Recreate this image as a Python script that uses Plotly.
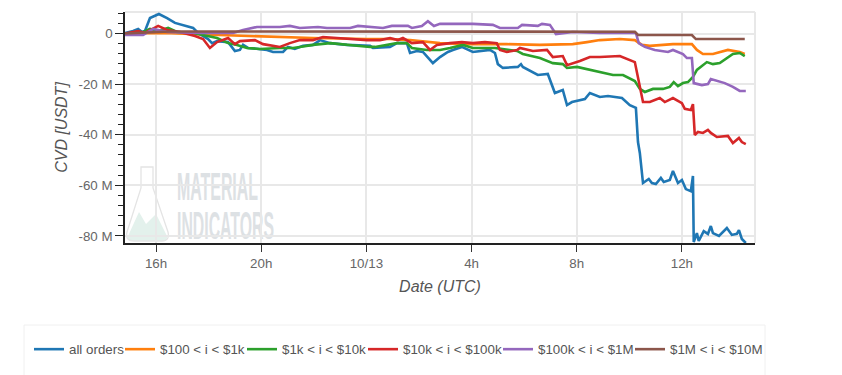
import base64
import pandas as pd
import plotly.graph_objects as go

# hours since 10/12 00:00, values in million USDT
all_h = [14.82,15.13,15.32,15.47,15.58,15.77,16.11,16.42,16.72,17.18,17.41,17.60,17.98,18.13,18.32,18.74,19.00,19.19,19.31,19.50,20.22,20.45,20.83,21.02,21.28,21.59,21.97,22.24,22.62,23.26,24.14,24.25,24.90,25.16,25.54,25.66,25.92,26.15,26.53,26.80,27.10,27.29,27.63,28.05,28.43,28.70,28.89,29.00,29.19,29.76,29.88,29.95,30.52,30.90,31.17,31.47,31.63,31.82,32.31,32.50,32.88,33.19,33.72,34.02,34.25,34.33,34.40,34.52,34.74,34.86,35.01,35.20,35.31,35.54,35.66,35.85,36.00,36.15,36.34,36.42,36.45,36.57,36.64,36.83,36.99,37.10,37.18,37.41,37.71,37.90,38.09,38.17,38.28,38.43]
all_v = [0.2,1.0,1.8,0.6,1.0,6.1,7.7,6.1,4.2,3.0,2.2,0.2,-2.2,-3.8,-3.0,-3.4,-6.9,-6.5,-4.5,-5.7,-6.5,-7.3,-7.3,-5.3,-6.1,-4.9,-4.5,-2.6,-3.8,-4.5,-4.9,-5.7,-5.3,-3.8,-3.8,-7.7,-6.9,-7.3,-11.7,-9.3,-7.3,-6.5,-5.3,-7.3,-6.9,-6.5,-7.7,-12.1,-13.6,-13.2,-12.1,-13.2,-16.4,-16.0,-23.5,-22.3,-28.3,-27.1,-25.9,-23.5,-25.1,-24.7,-25.5,-28.3,-29.4,-42.9,-47.2,-59.1,-57.5,-59.1,-59.5,-57.1,-58.7,-57.9,-54.3,-59.1,-57.9,-61.5,-62.3,-56.3,-82.4,-78.9,-82.0,-78.1,-79.2,-76.1,-78.9,-80.0,-76.9,-79.6,-79.2,-77.7,-81.2,-82.8]

o_h = [14.82,16.34,17.29,18.43,19.95,21.97,24.02,24.9,25.66,26.8,28.05,29.34,30.6,31.36,31.85,32.39,32.88,33.64,34.21,34.48,34.78,35.66,36.38,36.57,36.8,37.18,37.75,38.2,38.39]
o_v = [0,0.2,-0.2,-0.6,-1,-1.8,-2.2,-2.2,-2.6,-3.8,-4.2,-4.2,-4.5,-4.2,-4.2,-3.4,-2.6,-2.2,-2.6,-4.5,-4.9,-4.2,-4.2,-6.5,-8.1,-8.1,-6.5,-7.3,-8.1]

g_h = [14.82,15.51,15.77,16.08,16.46,16.8,17.41,18.05,18.32,18.74,19.08,19.46,19.95,20.71,21.21,21.47,21.97,22.62,23.26,24.14,24.33,25.16,25.54,25.73,26.3,26.8,27.18,27.67,28.05,28.89,29.73,29.95,30.6,31.09,31.47,31.63,32.01,32.5,32.88,33.38,33.76,34.21,34.4,34.59,34.9,35.28,35.54,35.69,35.85,36.04,36.23,36.42,36.57,36.95,37.18,37.44,37.94,38.2,38.39]
g_v = [0,0.6,1.8,1.0,2.2,0.6,0.2,-1.4,-1.8,-3.8,-4.5,-5.7,-6.1,-5.7,-5.7,-5.3,-4.5,-3.8,-4.5,-5.3,-5.3,-3.8,-3.8,-5.7,-6.5,-6.5,-5.7,-4.5,-5.7,-5.7,-6.9,-8.1,-9.7,-11.7,-12.1,-13.6,-13.2,-14.4,-15.2,-16.4,-16.4,-18.8,-21.9,-23.1,-21.9,-21.9,-21.1,-19.2,-20.8,-19.6,-19.2,-17.2,-14.4,-11.3,-12.1,-11.7,-8.1,-7.7,-8.9]

r_h = [14.82,15.13,15.32,15.58,16.08,16.42,16.91,17.48,17.79,18.05,18.32,18.74,19.0,19.19,19.76,20.07,20.71,21.09,21.47,21.97,22.35,22.88,24.02,24.52,24.9,25.2,25.39,25.73,26.15,26.42,26.68,27.18,27.63,28.05,28.51,28.96,29.08,29.34,29.73,29.84,30.33,30.87,31.09,31.47,31.63,32.12,32.5,32.88,33.64,34.21,34.33,34.52,34.78,35.16,35.35,35.66,36.0,36.11,36.34,36.42,36.49,36.61,36.8,36.99,37.1,37.33,37.75,37.94,38.17,38.28,38.43]
r_v = [0,0.6,1.0,0.2,3.0,1.4,0.6,-1,-2.2,-5.7,-3.4,-1.8,-4.2,-3.0,-2.6,-4.2,-5.3,-3.8,-2.6,-2.6,-1.4,-1.8,-2.6,-2.6,-1.8,-2.6,-1.8,-3.8,-3.4,-6.5,-4.5,-3.8,-3.4,-3.8,-3.4,-3.8,-6.5,-7.3,-6.5,-5.7,-6.9,-6.5,-9.3,-8.9,-12.5,-10.9,-9.3,-9.3,-8.9,-11.3,-17.6,-27.1,-27.1,-25.5,-27.1,-25.5,-27.5,-29.8,-30.2,-27.9,-40.1,-38.9,-39.3,-38.1,-39.3,-40.9,-40.5,-43.3,-41.3,-42.9,-43.7]

p_h = [14.82,15.51,15.89,16.42,17.67,18.93,19.31,19.84,20.71,21.09,21.47,22.16,22.5,23.38,23.68,24.63,24.97,25.58,25.73,26.11,26.34,26.57,26.8,28.05,28.81,29.08,29.76,29.92,30.52,30.68,30.98,31.21,31.85,32.88,34.25,34.36,34.59,34.97,35.47,35.66,36.04,36.19,36.38,36.45,36.76,36.99,37.1,37.63,37.94,38.2,38.43]
p_v = [-0.6,-0.6,1.8,0.6,0.2,0.2,1.4,2.6,2.6,3,2.2,2.6,2.2,2.2,3,2.2,3,3,2.2,3,4.9,3,3.8,3.8,3.4,2.2,2.2,3.4,3,3.8,3.4,-0.2,0.6,0.2,0.2,-3.8,-5.3,-6.5,-7.3,-6.5,-8.1,-9.7,-9.7,-19.6,-20.4,-20,-18,-19.6,-21.1,-22.7,-22.7]

b_h = [14.82,16.08,16.5,34.21,34.33,36.38,36.53,38.39]
b_v = [0,0.4,0.8,0.7,-0.6,-0.6,-2.2,-2.2]

names = ["all orders", "$100 < i < $1k", "$1k < i < $10k", "$10k < i < $100k", "$100k < i < $1M", "$1M < i < $10M"]
colors = ["#1f77b4", "#ff7f0e", "#2ca02c", "#d62728", "#9467bd", "#8c564b"]
hours = [all_h, o_h, g_h, r_h, p_h, b_h]
values = [all_v, o_v, g_v, r_v, p_v, b_v]

x_tick_hours = [16, 20, 24, 28, 32, 36]
x_tick_labels = ["16h", "20h", "10/13", "4h", "8h", "12h"]
y_ticks = [0, -20, -40, -60, -80]
y_labels = ["0", "-20 M", "-40 M", "-60 M", "-80 M"]
y_minor = [8, 4, -4, -8, -12, -16, -24, -28, -32, -36, -44, -48, -52, -56, -64, -68, -72, -76]
x_range_hours = [14.82, 38.78]
y_range = [-82.8, 8.5]
legend_left_px = [29, 120, 242, 363, 498, 630]

day0 = pd.Timestamp("2022-10-12")
def to_dt(h):
    return [day0 + pd.Timedelta(hours=float(v)) for v in h]

L, R, T, B = 125, 755, 12, 243
W, H = 842, 375
FONT = "Liberation Sans, Arial, sans-serif"

fig = go.Figure()
legend_layout = {}
for i, (n, c, h, v) in enumerate(zip(names, colors, hours, values)):
    key = "legend" if i == 0 else f"legend{i+1}"
    fig.add_trace(go.Scatter(x=to_dt(h), y=v, name=n, mode="lines", showlegend=True,
                             legend=key, line=dict(color=c, width=2.6)))
    legend_layout[key] = dict(orientation="h", xref="container", yref="container",
                              x=legend_left_px[i] / W, y=1 - 334 / H,
                              xanchor="left", yanchor="top", itemwidth=30,
                              font=dict(family=FONT, size=13.33, color="#555555"),
                              bgcolor="rgba(0,0,0,0)", borderwidth=0)

logo_svg = """<svg xmlns='http://www.w3.org/2000/svg' width='148' height='76' viewBox='0 0 148 76'>
<path d='M2 70 L13 46 L20 58 L30 48 L41 70 Q42 75 36 75 L8 75 Q1 75 2 70 Z' fill='#e3f1ec'/>
<path d='M15 1 L15 22 L1 66 Q-1 75 8 75 L36 75 Q44 75 42 66 L27 22 L27 1 Z' fill='none' stroke='#e4e4e4' stroke-width='1.3'/>
<g fill='#dde1e4' font-family='Liberation Sans Narrow, Liberation Sans' font-weight='bold' font-size='39'>
<text x='51' y='34' textLength='81' lengthAdjust='spacingAndGlyphs'>MATERIAL</text>
<text x='51' y='73' textLength='97' lengthAdjust='spacingAndGlyphs'>INDICATORS</text>
</g></svg>"""
logo = "data:image/svg+xml;base64," + base64.b64encode(logo_svg.encode()).decode()

fig.add_layout_image(dict(source=logo, xref="paper", yref="paper", x=1/630, y=(243-166)/231,
                          sizex=148/630, sizey=76/231, xanchor="left", yanchor="top",
                          sizing="stretch", layer="below", opacity=1))

# legend frame, running off the bottom of the page
fig.add_shape(type="rect", xref="paper", yref="paper",
              x0=(24-L)/(R-L), x1=(765-L)/(R-L), y0=(B-380)/(B-T), y1=(B-325)/(B-T),
              line=dict(color="#f0f0f0", width=1), fillcolor="rgba(0,0,0,0)")

tickfont = dict(family=FONT, size=13.33, color="#666666")
titlefont = dict(family=FONT, size=16, color="#555555", style="italic")

fig.update_layout(
    width=W, height=H, autosize=False,
    margin=dict(l=L, r=W-R, t=T, b=H-B, pad=0, autoexpand=False),
    paper_bgcolor="white", plot_bgcolor="white",
    xaxis=dict(range=[day0 + pd.Timedelta(hours=x_range_hours[0]), day0 + pd.Timedelta(hours=x_range_hours[1])],
               tickmode="array", tickvals=to_dt(x_tick_hours), ticktext=x_tick_labels,
               ticks="outside", ticklen=7, tickwidth=1.3, tickcolor="#333333",
               showline=True, linecolor="#222222", linewidth=1.5, automargin=False,
               showgrid=True, gridcolor="#e8e8e8", gridwidth=2,
               tickfont=tickfont, tickangle=0, zeroline=False,
               title=dict(text="Date (UTC)", font=titlefont, standoff=11)),
    yaxis=dict(range=y_range, tickmode="array", tickvals=y_ticks, ticktext=y_labels,
               ticks="outside", ticklen=8, tickwidth=1.3, tickcolor="#222222",
               showline=True, linecolor="#222222", linewidth=1.5, automargin=False,
               showgrid=True, gridcolor="#e8e8e8", gridwidth=2,
               tickfont=tickfont, zeroline=False,
               minor=dict(tickmode="array", tickvals=y_minor, ticks="outside", ticklen=5,
                          tickwidth=1.2, tickcolor="#222222", showgrid=False),
               title=dict(text="CVD [USDT]", font=titlefont, standoff=7)),
    **legend_layout,
)
fig.add_shape(type="line", xref="paper", yref="paper", x0=0, x1=1, y0=1, y1=1, line=dict(color="#e8e8e8", width=2), layer="below")
fig.add_shape(type="line", xref="paper", yref="paper", x0=1, x1=1, y0=0, y1=1, line=dict(color="#e8e8e8", width=2), layer="below")

fig.write_html("out.html", config=dict(displayModeBar=False),
               post_script="document.body.style.margin='0';document.body.style.overflow='hidden';")
